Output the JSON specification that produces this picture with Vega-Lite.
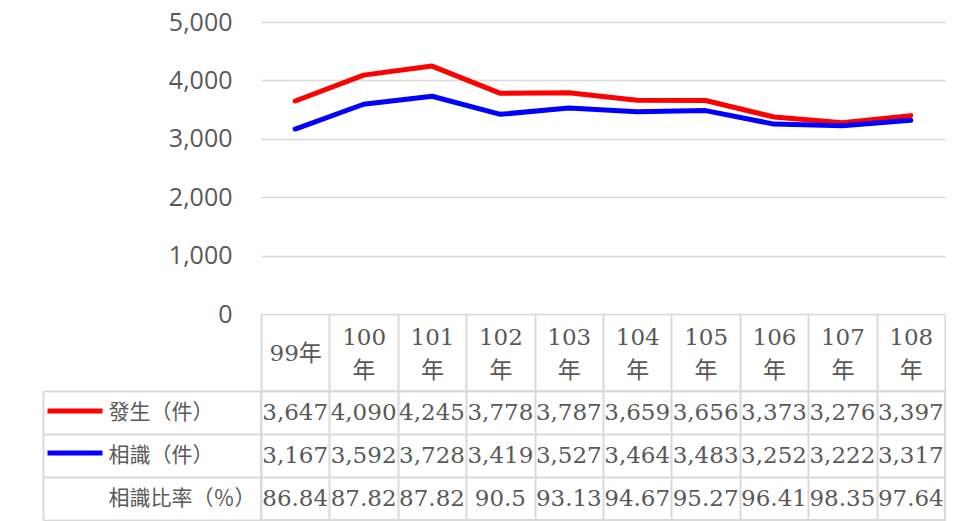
{
  "$schema": "https://vega.github.io/schema/vega-lite/v6.json",
  "background": "white",
  "padding": {"left": 41, "top": 10, "right": 0, "bottom": 0},
  "spacing": 77,
  "bounds": "flush",
  "config": {
    "view": {"stroke": null},
    "axis": {"labelColor": "#595959", "gridColor": "#d9d9d9", "tickColor": "#d9d9d9", "domainColor": "#d9d9d9", "title": null}
  },
  "data": {
    "values": [
      {"series": "發生（件）", "year": "99年", "value": 3647},
      {"series": "發生（件）", "year": "100年", "value": 4090},
      {"series": "發生（件）", "year": "101年", "value": 4245},
      {"series": "發生（件）", "year": "102年", "value": 3778},
      {"series": "發生（件）", "year": "103年", "value": 3787},
      {"series": "發生（件）", "year": "104年", "value": 3659},
      {"series": "發生（件）", "year": "105年", "value": 3656},
      {"series": "發生（件）", "year": "106年", "value": 3373},
      {"series": "發生（件）", "year": "107年", "value": 3276},
      {"series": "發生（件）", "year": "108年", "value": 3397},
      {"series": "相識（件）", "year": "99年", "value": 3167},
      {"series": "相識（件）", "year": "100年", "value": 3592},
      {"series": "相識（件）", "year": "101年", "value": 3728},
      {"series": "相識（件）", "year": "102年", "value": 3419},
      {"series": "相識（件）", "year": "103年", "value": 3527},
      {"series": "相識（件）", "year": "104年", "value": 3464},
      {"series": "相識（件）", "year": "105年", "value": 3483},
      {"series": "相識（件）", "year": "106年", "value": 3252},
      {"series": "相識（件）", "year": "107年", "value": 3222},
      {"series": "相識（件）", "year": "108年", "value": 3317},
      {"series": "相識比率（％）", "year": "99年", "value": 86.84},
      {"series": "相識比率（％）", "year": "100年", "value": 87.82},
      {"series": "相識比率（％）", "year": "101年", "value": 87.82},
      {"series": "相識比率（％）", "year": "102年", "value": 90.5},
      {"series": "相識比率（％）", "year": "103年", "value": 93.13},
      {"series": "相識比率（％）", "year": "104年", "value": 94.67},
      {"series": "相識比率（％）", "year": "105年", "value": 95.27},
      {"series": "相識比率（％）", "year": "106年", "value": 96.41},
      {"series": "相識比率（％）", "year": "107年", "value": 98.35},
      {"series": "相識比率（％）", "year": "108年", "value": 97.64}
    ]
  },
  "vconcat": [
    {
      "width": 684,
      "height": 292,
      "transform": [{"filter": "datum.series !== '相識比率（％）'"}],
      "mark": {"type": "line", "strokeWidth": 5, "strokeCap": "round", "strokeJoin": "round"},
      "encoding": {
        "x": {
          "field": "year", "type": "ordinal", "sort": null,
          "scale": {"type": "band", "paddingInner": 0, "paddingOuter": 0},
          "axis": {
            "orient": "bottom", "domain": false, "ticks": true, "tickBand": "extent",
            "tickSize": 77, "tickWidth": 2, "grid": false, "labelAngle": 0,
            "labelFont": "DejaVu Serif, Noto Sans CJK TC", "labelFontSize": 23,
            "labelPadding": {"condition": {"test": "length(datum.label) > 3", "value": -54}, "value": -38},
            "labelBaseline": "middle", "labelLineHeight": 33,
            "labelExpr": "length(datum.label) > 3 ? [slice(datum.label, 0, 3), '年'] : datum.label"
          }
        },
        "y": {
          "field": "value", "type": "quantitative",
          "scale": {"domain": [0, 5000]},
          "axis": {
            "values": [0, 1000, 2000, 3000, 4000, 5000], "format": ",.0f",
            "domain": false, "ticks": false, "grid": true, "gridWidth": 1.5,
            "labelFont": "Open Sans", "labelFontSize": 25, "labelPadding": 29
          }
        },
        "color": {
          "field": "series", "type": "nominal", "sort": null,
          "scale": {"domain": ["發生（件）", "相識（件）"], "range": ["#ff0000", "#0000ff"]},
          "legend": {
            "orient": "none", "legendX": -216, "legendY": 359, "title": null,
            "symbolType": "stroke", "symbolSize": 3025, "symbolStrokeWidth": 5,
            "labelExpr": "''", "labelFontSize": 1, "rowPadding": 2, "padding": 0, "symbolOffset": 0
          }
        }
      }
    },
    {
      "width": 684,
      "height": 129,
      "view": {"stroke": "#d9d9d9", "strokeWidth": 2},
      "mark": {"type": "text", "font": "DejaVu Serif", "fontSize": 23, "color": "#595959"},
      "encoding": {
        "x": {
          "field": "year", "type": "ordinal", "sort": null,
          "scale": {"type": "band", "paddingInner": 0, "paddingOuter": 0},
          "axis": {"orient": "bottom", "labels": false, "ticks": false, "domain": false, "grid": true, "tickBand": "extent", "gridWidth": 2}
        },
        "y": {
          "field": "series", "type": "nominal", "sort": null,
          "axis": {
            "orient": "left", "offset": 218, "domain": true, "domainWidth": 2,
            "ticks": true, "tickSize": -218, "tickWidth": 2, "tickBand": "extent",
            "grid": true, "gridWidth": 2,
            "labelAlign": "left", "labelPadding": 153, "labelBaseline": "middle",
            "labelFont": "Noto Sans CJK TC", "labelFontSize": 21
          }
        },
        "text": {"field": "value", "type": "quantitative", "format": ","}
      }
    }
  ]
}
